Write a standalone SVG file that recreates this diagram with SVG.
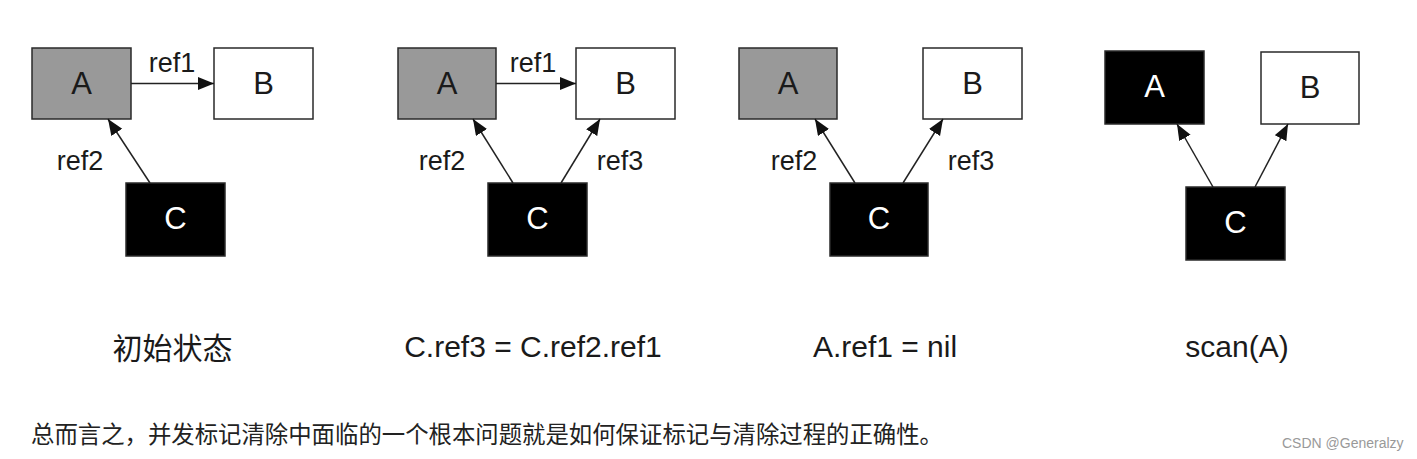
<svg xmlns="http://www.w3.org/2000/svg" width="1417" height="459" viewBox="0 0 1417 459">
<style>
.box{stroke:#2a2a2a;stroke-width:1.5}
.gray{fill:#999999}
.white{fill:#ffffff}
.black{fill:#000000}
.lbl{font-family:"Liberation Sans",Arial,sans-serif;font-size:31px;text-anchor:middle}
.ref{font-family:"Liberation Sans",Arial,sans-serif;font-size:27px;text-anchor:middle;fill:#1a1a1a}
.cap{font-family:"Liberation Sans","Noto Sans CJK SC",sans-serif;font-size:30px;text-anchor:middle;fill:#1a1a1a}
.edge{stroke:#222;stroke-width:1.5;fill:none;marker-end:url(#ah)}
.body{font-family:"Noto Sans CJK SC",sans-serif;font-size:23.4px;fill:#222}
.wm{font-family:"Liberation Sans",Arial,sans-serif;font-size:14px;fill:#999}
</style>
<defs>
<marker id="ah" markerUnits="userSpaceOnUse" markerWidth="17" markerHeight="14" refX="16" refY="6.5" orient="auto">
<path d="M0,0 L16,6.5 L0,13 Z" fill="#111"/>
</marker>
</defs>
<rect width="1417" height="459" fill="#ffffff"/>

<!-- Panel 1 -->
<g id="p1-A"><rect class="box gray" x="32" y="48" width="99" height="71"/><text class="lbl" x="81.5" y="94" fill="#1a1a1a">A</text></g>
<g id="p1-B"><rect class="box white" x="214" y="48" width="99" height="71"/><text class="lbl" x="263.5" y="94" fill="#1a1a1a">B</text></g>
<g id="p1-C"><rect class="box black" x="126" y="183" width="99" height="73"/><text class="lbl" x="175.5" y="229" fill="#ffffff">C</text></g>

<!-- Panel 2 -->
<g id="p2-A"><rect class="box gray" x="398" y="48" width="98" height="71"/><text class="lbl" x="447" y="94" fill="#1a1a1a">A</text></g>
<g id="p2-B"><rect class="box white" x="576" y="48" width="99" height="71"/><text class="lbl" x="625.5" y="94" fill="#1a1a1a">B</text></g>
<g id="p2-C"><rect class="box black" x="488" y="183" width="99" height="73"/><text class="lbl" x="537.5" y="229" fill="#ffffff">C</text></g>

<!-- Panel 3 -->
<g id="p3-A"><rect class="box gray" x="739" y="48" width="98" height="71"/><text class="lbl" x="788" y="94" fill="#1a1a1a">A</text></g>
<g id="p3-B"><rect class="box white" x="923" y="48" width="99" height="71"/><text class="lbl" x="972.5" y="94" fill="#1a1a1a">B</text></g>
<g id="p3-C"><rect class="box black" x="830" y="183" width="98" height="73"/><text class="lbl" x="879" y="229" fill="#ffffff">C</text></g>

<!-- Panel 4 -->
<g id="p4-A"><rect class="box black" x="1105" y="51" width="99" height="73"/><text class="lbl" x="1154.5" y="97" fill="#ffffff">A</text></g>
<g id="p4-B"><rect class="box white" x="1261" y="52" width="98" height="72"/><text class="lbl" x="1310" y="98" fill="#1a1a1a">B</text></g>
<g id="p4-C"><rect class="box black" x="1186" y="187" width="99" height="73"/><text class="lbl" x="1235.5" y="233" fill="#ffffff">C</text></g>

<g id="connectors">
<line class="edge" x1="131" y1="83.5" x2="214" y2="83.5"/>
<line class="edge" x1="150" y1="183" x2="108" y2="119"/>
<line class="edge" x1="496" y1="83.5" x2="576" y2="83.5"/>
<line class="edge" x1="513" y1="183" x2="473" y2="119"/>
<line class="edge" x1="561" y1="183" x2="600" y2="119"/>
<line class="edge" x1="855" y1="183" x2="815" y2="119"/>
<line class="edge" x1="903" y1="183" x2="943" y2="119"/>
<line class="edge" x1="1213" y1="187" x2="1177" y2="124"/>
<line class="edge" x1="1255" y1="187" x2="1288" y2="124"/>
<text class="ref" x="172" y="72">ref1</text>
<text class="ref" x="80" y="170">ref2</text>
<text class="ref" x="533" y="72">ref1</text>
<text class="ref" x="442" y="170">ref2</text>
<text class="ref" x="620" y="170">ref3</text>
<text class="ref" x="794" y="170">ref2</text>
<text class="ref" x="971" y="170">ref3</text>
</g>

<g id="captions">
<text class="cap" x="172.5" y="359">初始状态</text>
<text class="cap" x="533" y="357">C.ref3 = C.ref2.ref1</text>
<text class="cap" x="885" y="357">A.ref1 = nil</text>
<text class="cap" x="1237" y="357">scan(A)</text>
</g>

<text class="body" x="31" y="443" textLength="912" lengthAdjust="spacing">总而言之，并发标记清除中面临的一个根本问题就是如何保证标记与清除过程的正确性。</text>
<text class="wm" x="1282" y="448">CSDN @Generalzy</text>
</svg>
